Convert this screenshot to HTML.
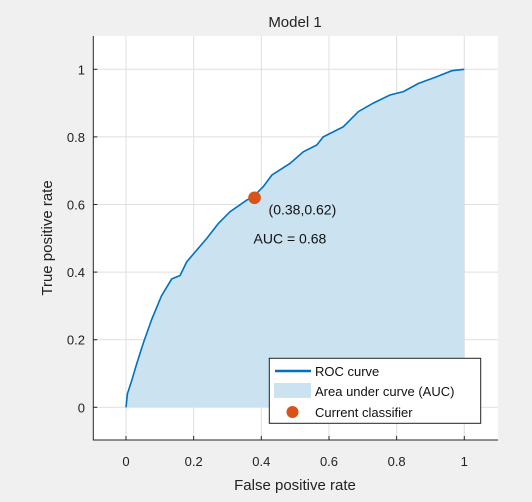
<!DOCTYPE html>
<html><head><meta charset="utf-8"><style>
html,body{margin:0;padding:0;background:#f0f0f0;}
svg{display:block;font-family:"Liberation Sans",Arial,sans-serif;}
</style></head><body>
<svg id="chart" width="532" height="502" viewBox="0 0 532 502">
<rect x="0" y="0" width="532" height="502" fill="#f0f0f0"/>
<rect x="93.3" y="36" width="404.7" height="404" fill="#ffffff"/>
<g id="grid"></g>
<g id="marks"></g>
<g id="axes"></g>
<text x="295" y="27" font-size="15" text-anchor="middle" fill="#222">Model 1</text>
<text x="295" y="490" font-size="15" text-anchor="middle" fill="#222">False positive rate</text>
<text transform="translate(52,238) rotate(-90)" font-size="15" text-anchor="middle" fill="#222">True positive rate</text>
<text id="ptlabel" font-size="14" fill="#111">(0.38,0.62)</text>
<text id="auclabel" font-size="14" fill="#111">AUC = 0.68</text>
<g>
<rect x="269.3" y="358.3" width="211.4" height="65" fill="#fff" stroke="#222" stroke-width="1"/>
<line x1="275" y1="371" x2="311" y2="371" stroke="#0072bd" stroke-width="2.5"/>
<text x="315" y="376" font-size="13" fill="#111">ROC curve</text>
<rect x="274" y="383" width="37" height="15" fill="#cbe2f0"/>
<text x="315" y="396" font-size="13" fill="#111">Area under curve (AUC)</text>
<circle cx="292.5" cy="412" r="6" fill="#d95319"/>
<text x="315" y="417" font-size="13" fill="#111">Current classifier</text>
</g>
</svg>
<script>
const fprValues=[0,0.004,0.017,0.032,0.051,0.076,0.105,0.135,0.16,0.179,0.209,0.239,0.273,0.308,0.357,0.376,0.406,0.431,0.485,0.524,0.564,0.583,0.642,0.687,0.731,0.78,0.82,0.864,0.918,0.963,1];
const tprValues=[0,0.04,0.08,0.13,0.19,0.26,0.33,0.38,0.39,0.43,0.465,0.5,0.544,0.579,0.613,0.623,0.653,0.687,0.722,0.756,0.776,0.8,0.83,0.875,0.9,0.924,0.934,0.958,0.978,0.996,1];
const classifierPoint=[0.38,0.62];
const xTicks=[0,0.2,0.4,0.6,0.8,1];
const yTicks=[0,0.2,0.4,0.6,0.8,1];
const xTickLabels=["0","0.2","0.4","0.6","0.8","1"];
const yTickLabels=["0","0.2","0.4","0.6","0.8","1"];
const NS="http://www.w3.org/2000/svg";
const sx=v=>126+v*338.3;
const sy=v=>407.3-v*338;
function mk(tag,attrs,parent){const e=document.createElementNS(NS,tag);for(const k in attrs)e.setAttribute(k,attrs[k]);parent.appendChild(e);return e;}
const grid=document.getElementById('grid'),marks=document.getElementById('marks'),axes=document.getElementById('axes');
xTicks.forEach((t,i)=>{
 const g=mk('line',{x1:sx(t),x2:sx(t),y1:36,y2:440,stroke:'#dfdfdf','stroke-width':1},grid);
 
 
 const tk=mk('line',{x1:sx(t),x2:sx(t),y1:440,y2:436,stroke:'#262626'},axes);
 
 
 const l=mk('text',{x:sx(t),y:466,'font-size':13,'text-anchor':'middle',fill:'#222'},axes);
 l.textContent=xTickLabels[i];
 
 
});
yTicks.forEach((t,i)=>{
 const g=mk('line',{x1:93.3,x2:498,y1:sy(t),y2:sy(t),stroke:'#dfdfdf','stroke-width':1},grid);
 
 
 const tk=mk('line',{x1:93.3,x2:97.3,y1:sy(t),y2:sy(t),stroke:'#262626'},axes);
 
 
 const l=mk('text',{x:85,y:sy(t)+5,'font-size':13,'text-anchor':'end',fill:'#222'},axes);
 l.textContent=yTickLabels[i];
 
 
});
const axl=mk('path',{d:'M93.3,36V440H498',fill:'none',stroke:'#262626','stroke-width':1},axes);


let pts=fprValues.map((v,i)=>sx(v).toFixed(1)+','+sy(tprValues[i]).toFixed(1));
const area=mk('path',{d:'M'+pts.join('L')+'L'+sx(1)+','+sy(0)+'Z',fill:'#cbe2f0'},marks);


const line=mk('path',{d:'M'+pts.join('L'),fill:'none',stroke:'#0072bd','stroke-width':1.6},marks);


const dot=mk('circle',{cx:sx(classifierPoint[0]),cy:sy(classifierPoint[1]),r:6.3,fill:'#d95319'},marks);


const pl=document.getElementById('ptlabel');
pl.setAttribute('x',sx(classifierPoint[0])+14);pl.setAttribute('y',sy(classifierPoint[1])+17);
const al=document.getElementById('auclabel');
al.setAttribute('x',sx(classifierPoint[0])-1);al.setAttribute('y',sy(classifierPoint[1])+46);
</script>
</body></html>
